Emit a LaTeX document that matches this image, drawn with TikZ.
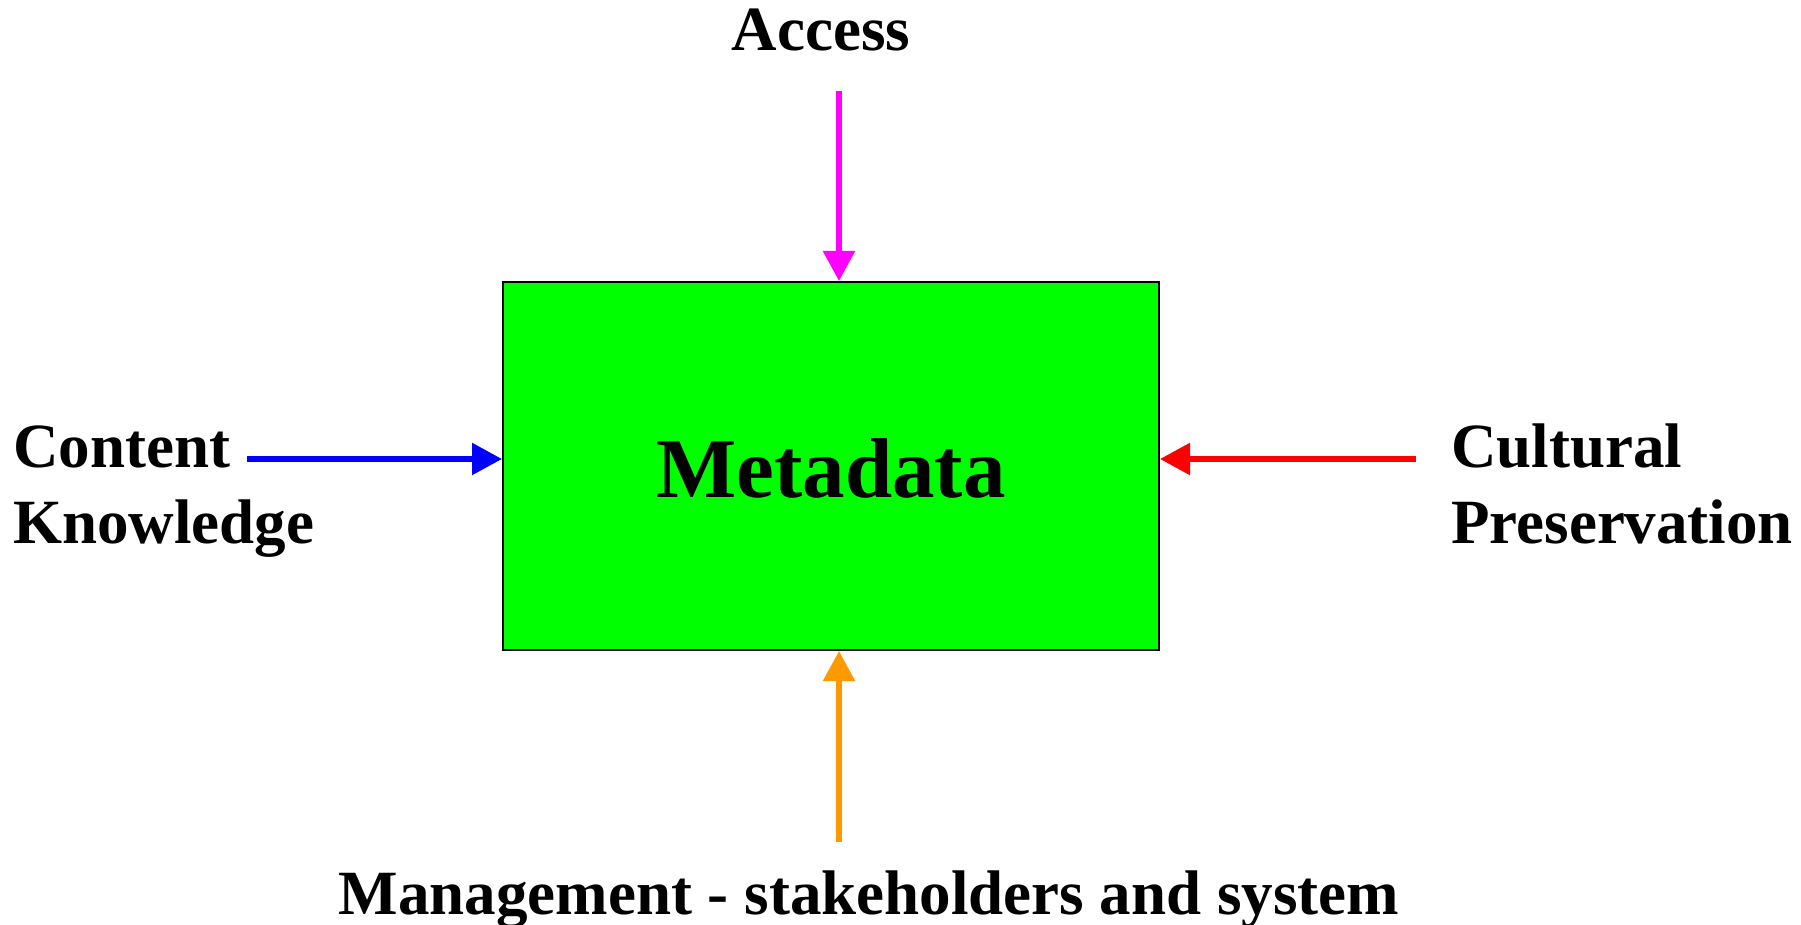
\documentclass[tikz,border=0pt]{standalone}
\usepackage{fontspec}
\setmainfont{Liberation Serif}
\usetikzlibrary{arrows.meta, positioning}

\definecolor{metagreen}{HTML}{00FF00}
\definecolor{accesspink}{HTML}{FF00FF}
\definecolor{contentblue}{HTML}{0000FF}
\definecolor{culturered}{HTML}{FF0000}
\definecolor{manageorange}{HTML}{FF9900}

\tikzset{
	labeltext/.style={font=\fontsize{63}{76}\selectfont\bfseries, inner sep=0pt},
	feed/.style={line width=5.5pt, -{Triangle[length=30pt, width=31pt]}},
}

\begin{document}
\begin{tikzpicture}[x=1pt, y=-1pt]
	\useasboundingbox (0,0) rectangle (1801,925);

	\node[draw=black, line width=2pt, fill=metagreen, minimum width=656pt, minimum height=368pt,
		text height=64pt, font=\fontsize{85}{100}\selectfont\bfseries] (meta) at (831,466) {Metadata};

	\node[labeltext, anchor=base] (access) at (821,51) {Access};
	\node[labeltext, anchor=base] (manage) at (869,914) {Management - stakeholders and system};
	\node[labeltext, anchor=base west, align=left] (content) at (13,543) {Content\\Knowledge};
	\node[labeltext, anchor=base west, align=left] (culture) at (1451,543) {Cultural\\Preservation};

	\coordinate (access in) at (839,91);
	\coordinate (manage in) at (839,842);
	\coordinate (content in) at (247,459);
	\coordinate (culture in) at (1416,459);

	\draw[feed, accesspink] (access in) -- (access in |- meta.north);
	\draw[feed, manageorange] (manage in) -- (manage in |- meta.south);
	\draw[feed, contentblue] (content in) -- (content in -| meta.west);
	\draw[feed, culturered] (culture in) -- (culture in -| meta.east);

\end{tikzpicture}
\end{document}
